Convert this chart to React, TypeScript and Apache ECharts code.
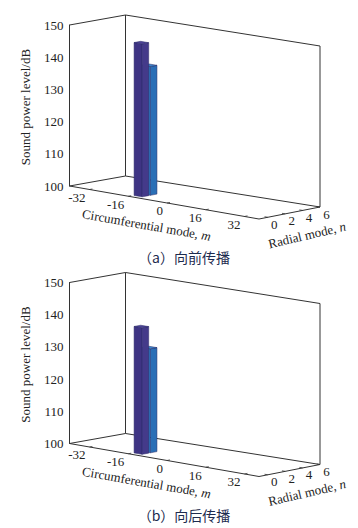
import React, { useEffect, useRef } from "react";
import * as echarts from "echarts";

const mTicks = [-32, -16, 0, 16, 32];
const nTicks = [0, 2, 4, 6];
const levelTicksMin = 100;
const levelTicksMax = 150;
// [m, n, level]; rear bars first
const forwardBars = [
  [-14, 1, 140],
  [-14, 0, 147.5],
];
const backwardBars = [
  [-14, 1, 132.3],
  [-14, 0, 139.3],
];
const barColors: Record<number, string[]> = {
  0: ["#3e3484", "#443a8a", "#4b4296"],
  1: ["#2f7cc4", "#2a6fb6", "#3a86cc"],
};
const captions = ["（a）向前传播", "（b）向后传播"];
const levelTitle = "Sound power level/dB";
const mTitle = "Circumferential mode, {i|m}";
const nTitle = "Radial mode, {i|n}";

const M0 = -40.3, M1 = 38, N0 = -1, N1 = 6;
const PANEL_OFFSET = 257.5;
const LEFT = 69.5, TOP = 25, W = 189.5, H = 161;
const SERIF = "'Liberation Serif', serif";
const TXT = "#222222";
const LINE = "#333333";

const project = (api: any, m: number, n: number, level: number) => {
  const p = api.coord([m, level]);
  const u = (m - M0) / (M1 - M0);
  const v = n - N0;
  const nx = (56 + 5 * u) / (N1 - N0);
  const ny = (-10 - 2 * u) / (N1 - N0);
  return [p[0] + v * nx, p[1] + u * 33 + v * ny];
};

const lineEl = (a: number[], b: number[], w = 1) => ({
  type: "line",
  shape: { x1: a[0], y1: a[1], x2: b[0], y2: b[1] },
  style: { stroke: LINE, lineWidth: w },
  silent: true,
});

const frameItem = (_: any, api: any) => {
  const A = project(api, M0, N0, levelTicksMin);
  const B = project(api, M1, N0, levelTicksMin);
  const C = project(api, M1, N1, levelTicksMin);
  const D = project(api, M0, N1, levelTicksMin);
  const At = project(api, M0, N0, levelTicksMax);
  const Ct = project(api, M1, N1, levelTicksMax);
  const Dt = project(api, M0, N1, levelTicksMax);
  return {
    type: "group",
    children: [
      lineEl(A, B), lineEl(B, C), lineEl(C, D), lineEl(D, A),
      lineEl(D, Dt), lineEl(C, Ct), lineEl(At, Dt), lineEl(Dt, Ct),
    ],
  };
};

const mTickItem = (_: any, api: any) => {
  const m = api.value(0);
  const a = project(api, m, N0, levelTicksMin);
  const b = project(api, m, N0 + 0.35, levelTicksMin);
  return {
    type: "group",
    children: [
      lineEl(a, b, 0.8),
      {
        type: "text",
        style: {
          x: a[0] - 4, y: a[1] + 8, text: String(m), fill: TXT,
          font: `13px ${SERIF}`, textAlign: "right", textVerticalAlign: "middle",
        },
      },
    ],
  };
};

const nTickItem = (_: any, api: any) => {
  const n = api.value(1);
  const a = project(api, M1, n, levelTicksMin);
  const b = project(api, M1 - 1.3, n, levelTicksMin);
  return {
    type: "group",
    children: [
      lineEl(a, b, 0.8),
      {
        type: "text",
        style: {
          x: a[0] + 6.5, y: a[1] + 7, text: String(n), fill: TXT,
          font: `13px ${SERIF}`, textAlign: "center", textVerticalAlign: "middle",
        },
      },
    ],
  };
};

const barItem = (_: any, api: any) => {
  const m = api.value(0), n = api.value(1), level = api.value(2);
  const hm = 1.65, hn = 0.4;
  const [front, side, top] = barColors[n];
  const P = (dm: number, dn: number, l: number) => project(api, m + dm, n + dn, l);
  const face = (pts: number[][], fill: string) => ({
    type: "polygon",
    shape: { points: pts },
    style: { fill, stroke: "#2b2a66", lineWidth: 0.5 },
    silent: true,
  });
  return {
    type: "group",
    children: [
      face([P(-hm, -hn, 100), P(hm, -hn, 100), P(hm, -hn, level), P(-hm, -hn, level)], front),
      face([P(hm, -hn, 100), P(hm, hn, 100), P(hm, hn, level), P(hm, -hn, level)], side),
      face([P(-hm, -hn, level), P(hm, -hn, level), P(hm, hn, level), P(-hm, hn, level)], top),
    ],
  };
};

const panelSeries = (i: number, bars: number[][]) => {
  const base = { type: "custom", xAxisIndex: i, yAxisIndex: i, silent: true, clip: false };
  return [
    { ...base, z: 1, data: [[0, 0]], renderItem: frameItem },
    { ...base, z: 2, data: mTicks.map((m) => [m, N0]), renderItem: mTickItem },
    { ...base, z: 2, data: nTicks.map((n) => [M1, n]), renderItem: nTickItem },
    { ...base, z: 3, data: bars, renderItem: barItem },
  ];
};

const panelGraphics = (i: number) => {
  const dy = i * PANEL_OFFSET;
  const rich = { i: { fontStyle: "italic", fontFamily: SERIF, fontSize: 13, fill: TXT } };
  return [
    {
      type: "text", x: 25, y: 107 + dy, rotation: Math.PI / 2,
      style: {
        text: levelTitle, fontFamily: SERIF, fontSize: 13, fill: TXT,
        textAlign: "center", textVerticalAlign: "middle",
      },
    },
    {
      type: "text", x: 146.5, y: 225 + dy, rotation: -0.175,
      style: {
        text: mTitle, fontFamily: SERIF, fontSize: 13, fill: TXT,
        textAlign: "center", textVerticalAlign: "middle", rich,
      },
    },
    {
      type: "text", x: 307, y: 235 + dy, rotation: 0.23,
      style: {
        text: nTitle, fontFamily: SERIF, fontSize: 13, fill: TXT,
        textAlign: "center", textVerticalAlign: "middle", rich,
      },
    },
    {
      type: "text", x: 184, y: 257 + dy,
      style: {
        text: captions[i], fontFamily: "'Noto Sans CJK SC', sans-serif", fontSize: 14, fill: "#1d2b4f",
        textAlign: "center", textVerticalAlign: "middle",
      },
    },
  ];
};

export default function App() {
  const ref = useRef<HTMLDivElement>(null);
  useEffect(() => {
    const chart = echarts.init(ref.current!, undefined, { renderer: "svg" });
    const idx = [0, 1];
    chart.setOption({
      animation: false,
      backgroundColor: "#ffffff",
      grid: idx.map((i) => ({ left: LEFT, top: TOP + i * PANEL_OFFSET, width: W, height: H, containLabel: false })),
      xAxis: idx.map((i) => ({
        type: "value", gridIndex: i, min: M0, max: M1, show: false,
      })),
      yAxis: idx.map((i) => ({
        type: "value", gridIndex: i, min: levelTicksMin, max: levelTicksMax, interval: 10,
        axisLine: { show: true, onZero: false, lineStyle: { color: LINE, width: 1 } },
        axisTick: { show: false },
        splitLine: { show: false },
        axisLabel: { color: TXT, fontFamily: SERIF, fontSize: 13, margin: 6 },
      })),
      graphic: [...panelGraphics(0), ...panelGraphics(1)],
      series: [...panelSeries(0, forwardBars), ...panelSeries(1, backwardBars)],
    });
    return () => chart.dispose();
  }, []);
  return <div ref={ref} style={{ width: 358, height: 528, position: "absolute", left: 0, top: 0 }} />;
}
